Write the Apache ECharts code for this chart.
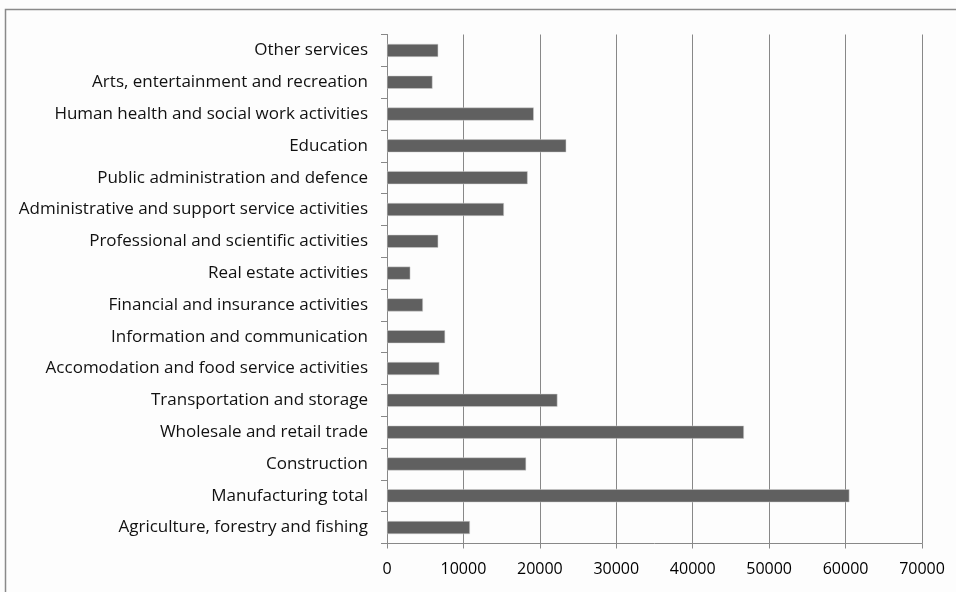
<!DOCTYPE html>
<html>
<head>
<meta charset="utf-8">
<script src="https://cdn.jsdelivr.net/npm/echarts@6/dist/echarts.min.js"></script>
<style>
html,body{margin:0;padding:0;background:#fff;}
#chart{width:956px;height:592px;}
</style>
</head>
<body>
<div id="chart"></div>
<script>
var categories = [
  "Agriculture, forestry and fishing",
  "Manufacturing total",
  "Construction",
  "Wholesale and retail trade",
  "Transportation and storage",
  "Accomodation and food service activities",
  "Information and communication",
  "Financial and insurance activities",
  "Real estate activities",
  "Professional and scientific activities",
  "Administrative and support service activities",
  "Public administration and defence",
  "Education",
  "Human health and social work activities",
  "Arts, entertainment and recreation",
  "Other services"
];
var values = [10850, 60500, 18200, 46700, 22300, 6850, 7600, 4700, 3050, 6700, 15300, 18400, 23450, 19200, 5950, 6700];
var xTicks = { min: 0, max: 70000, interval: 10000 };

var chart = echarts.init(document.getElementById('chart'), null, {renderer: 'canvas'});
chart.setOption({
  backgroundColor: '#fdfdfd',
  animation: false,
  graphic: [{
    type: 'rect',
    shape: {x: 5.5, y: 9.5, width: 2000, height: 2000},
    style: {fill: 'none', stroke: '#8a8a8a', lineWidth: 1.5},
    silent: true
  }],
  grid: {left: 387, right: 34, top: 34.5, bottom: 48.5, containLabel: false},
  xAxis: {
    type: 'value',
    min: xTicks.min, max: xTicks.max, interval: xTicks.interval,
    axisLine: {show: true, lineStyle: {color: '#888', width: 1}},
    axisTick: {show: true, length: 5, lineStyle: {color: '#888'}},
    axisLabel: {color: '#000', fontFamily: 'Open Sans', fontSize: 16, margin: 18,
      formatter: function (v) { return String(v); }},
    splitLine: {show: true, lineStyle: {color: '#888', width: 1}}
  },
  yAxis: {
    type: 'category',
    data: categories,
    axisLine: {show: true, lineStyle: {color: '#888', width: 1}},
    axisTick: {show: true, length: 6, lineStyle: {color: '#888'}},
    axisLabel: {color: '#111', fontFamily: 'Open Sans', fontSize: 17, margin: 19},
    splitLine: {show: false}
  },
  series: [{
    type: 'bar',
    data: values,
    barWidth: 13,
    itemStyle: {color: '#606060', borderColor: '#d0d0d0', borderWidth: 0.5}
  }]
});
</script>
</body>
</html>
